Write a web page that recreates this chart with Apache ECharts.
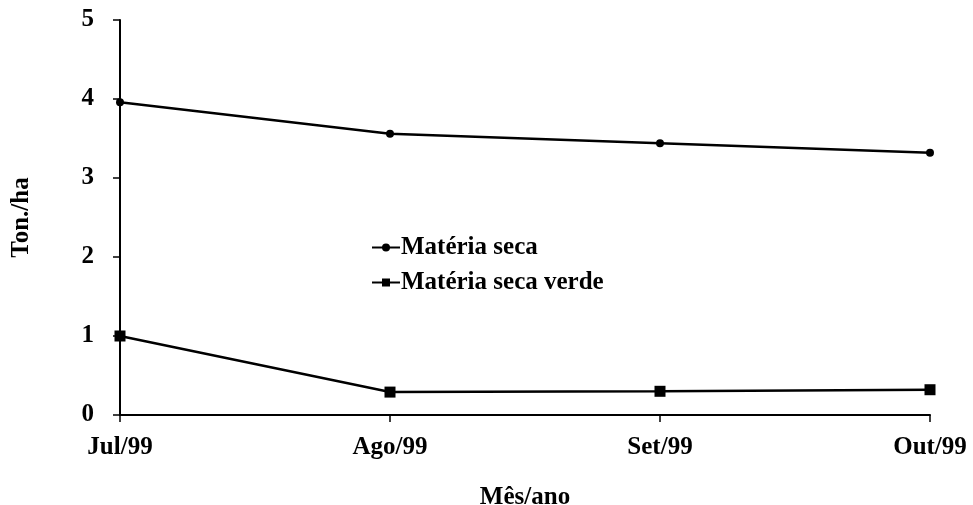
<!DOCTYPE html>
<html>
<head>
<meta charset="utf-8">
<script src="https://cdn.jsdelivr.net/npm/echarts@6/dist/echarts.min.js"></script>
<style>
  html, body { margin: 0; padding: 0; background: #fff; }
  #chart { width: 973px; height: 505px; }
</style>
</head>
<body>
<div id="chart"></div>
<script>
// dados
const meses = ['Jul/99', 'Ago/99', 'Set/99', 'Out/99']
const materiaSeca = [3.96, 3.56, 3.44, 3.32]
const materiaSecaVerde = [1.0, 0.29, 0.3, 0.32]
const yTicks = [0, 1, 2, 3, 4, 5]

const fonte = 'Liberation Serif, Times New Roman, serif'

const chart = echarts.init(document.getElementById('chart'))

chart.setOption({
  backgroundColor: '#fff',
  animation: false,
  grid: { left: 120, right: 43, top: 20, bottom: 90, containLabel: false, outerBoundsMode: 'none' },
  legend: {
    orient: 'vertical',
    left: 366,
    top: 230,
    itemGap: 10,
    itemWidth: 28,
    itemHeight: 10,
    textStyle: { fontFamily: fonte, fontWeight: 'bold', fontSize: 25, color: '#000', padding: [0, 0, 0, -4] },
    data: ['Matéria seca', 'Matéria seca verde'],
  },
  xAxis: {
    type: 'category',
    data: meses,
    boundaryGap: false,
    name: 'Mês/ano',
    nameLocation: 'middle',
    nameGap: 70,
    nameTextStyle: { fontFamily: fonte, fontWeight: 'bold', fontSize: 25, color: '#000' },
    axisLine: { lineStyle: { color: '#000', width: 2 } },
    axisTick: { show: true, length: 7, lineStyle: { color: '#000', width: 1.5 } },
    axisLabel: { fontFamily: fonte, fontWeight: 'bold', fontSize: 25, color: '#000', margin: 20 },
    splitLine: { show: false },
  },
  yAxis: {
    type: 'value',
    min: yTicks[0],
    max: yTicks[yTicks.length - 1],
    interval: 1,
    name: 'Ton./ha',
    nameLocation: 'middle',
    nameGap: 86,
    nameRotate: 90,
    nameTextStyle: { fontFamily: fonte, fontWeight: 'bold', fontSize: 25, color: '#000' },
    axisLine: { show: true, lineStyle: { color: '#000', width: 2 } },
    axisTick: { show: true, length: 7, lineStyle: { color: '#000', width: 1.5 } },
    axisLabel: { fontFamily: fonte, fontWeight: 'bold', fontSize: 25, color: '#000', margin: 26 },
    splitLine: { show: false },
  },
  series: [
    {
      name: 'Matéria seca',
      type: 'line',
      data: materiaSeca,
      symbol: 'circle',
      symbolSize: 8,
      itemStyle: { color: '#000' },
      lineStyle: { color: '#000', width: 2.5 },
    },
    {
      name: 'Matéria seca verde',
      type: 'line',
      data: materiaSecaVerde,
      symbol: 'rect',
      symbolSize: 11,
      itemStyle: { color: '#000' },
      lineStyle: { color: '#000', width: 2.5 },
    },
  ],
})
</script>
</body>
</html>
